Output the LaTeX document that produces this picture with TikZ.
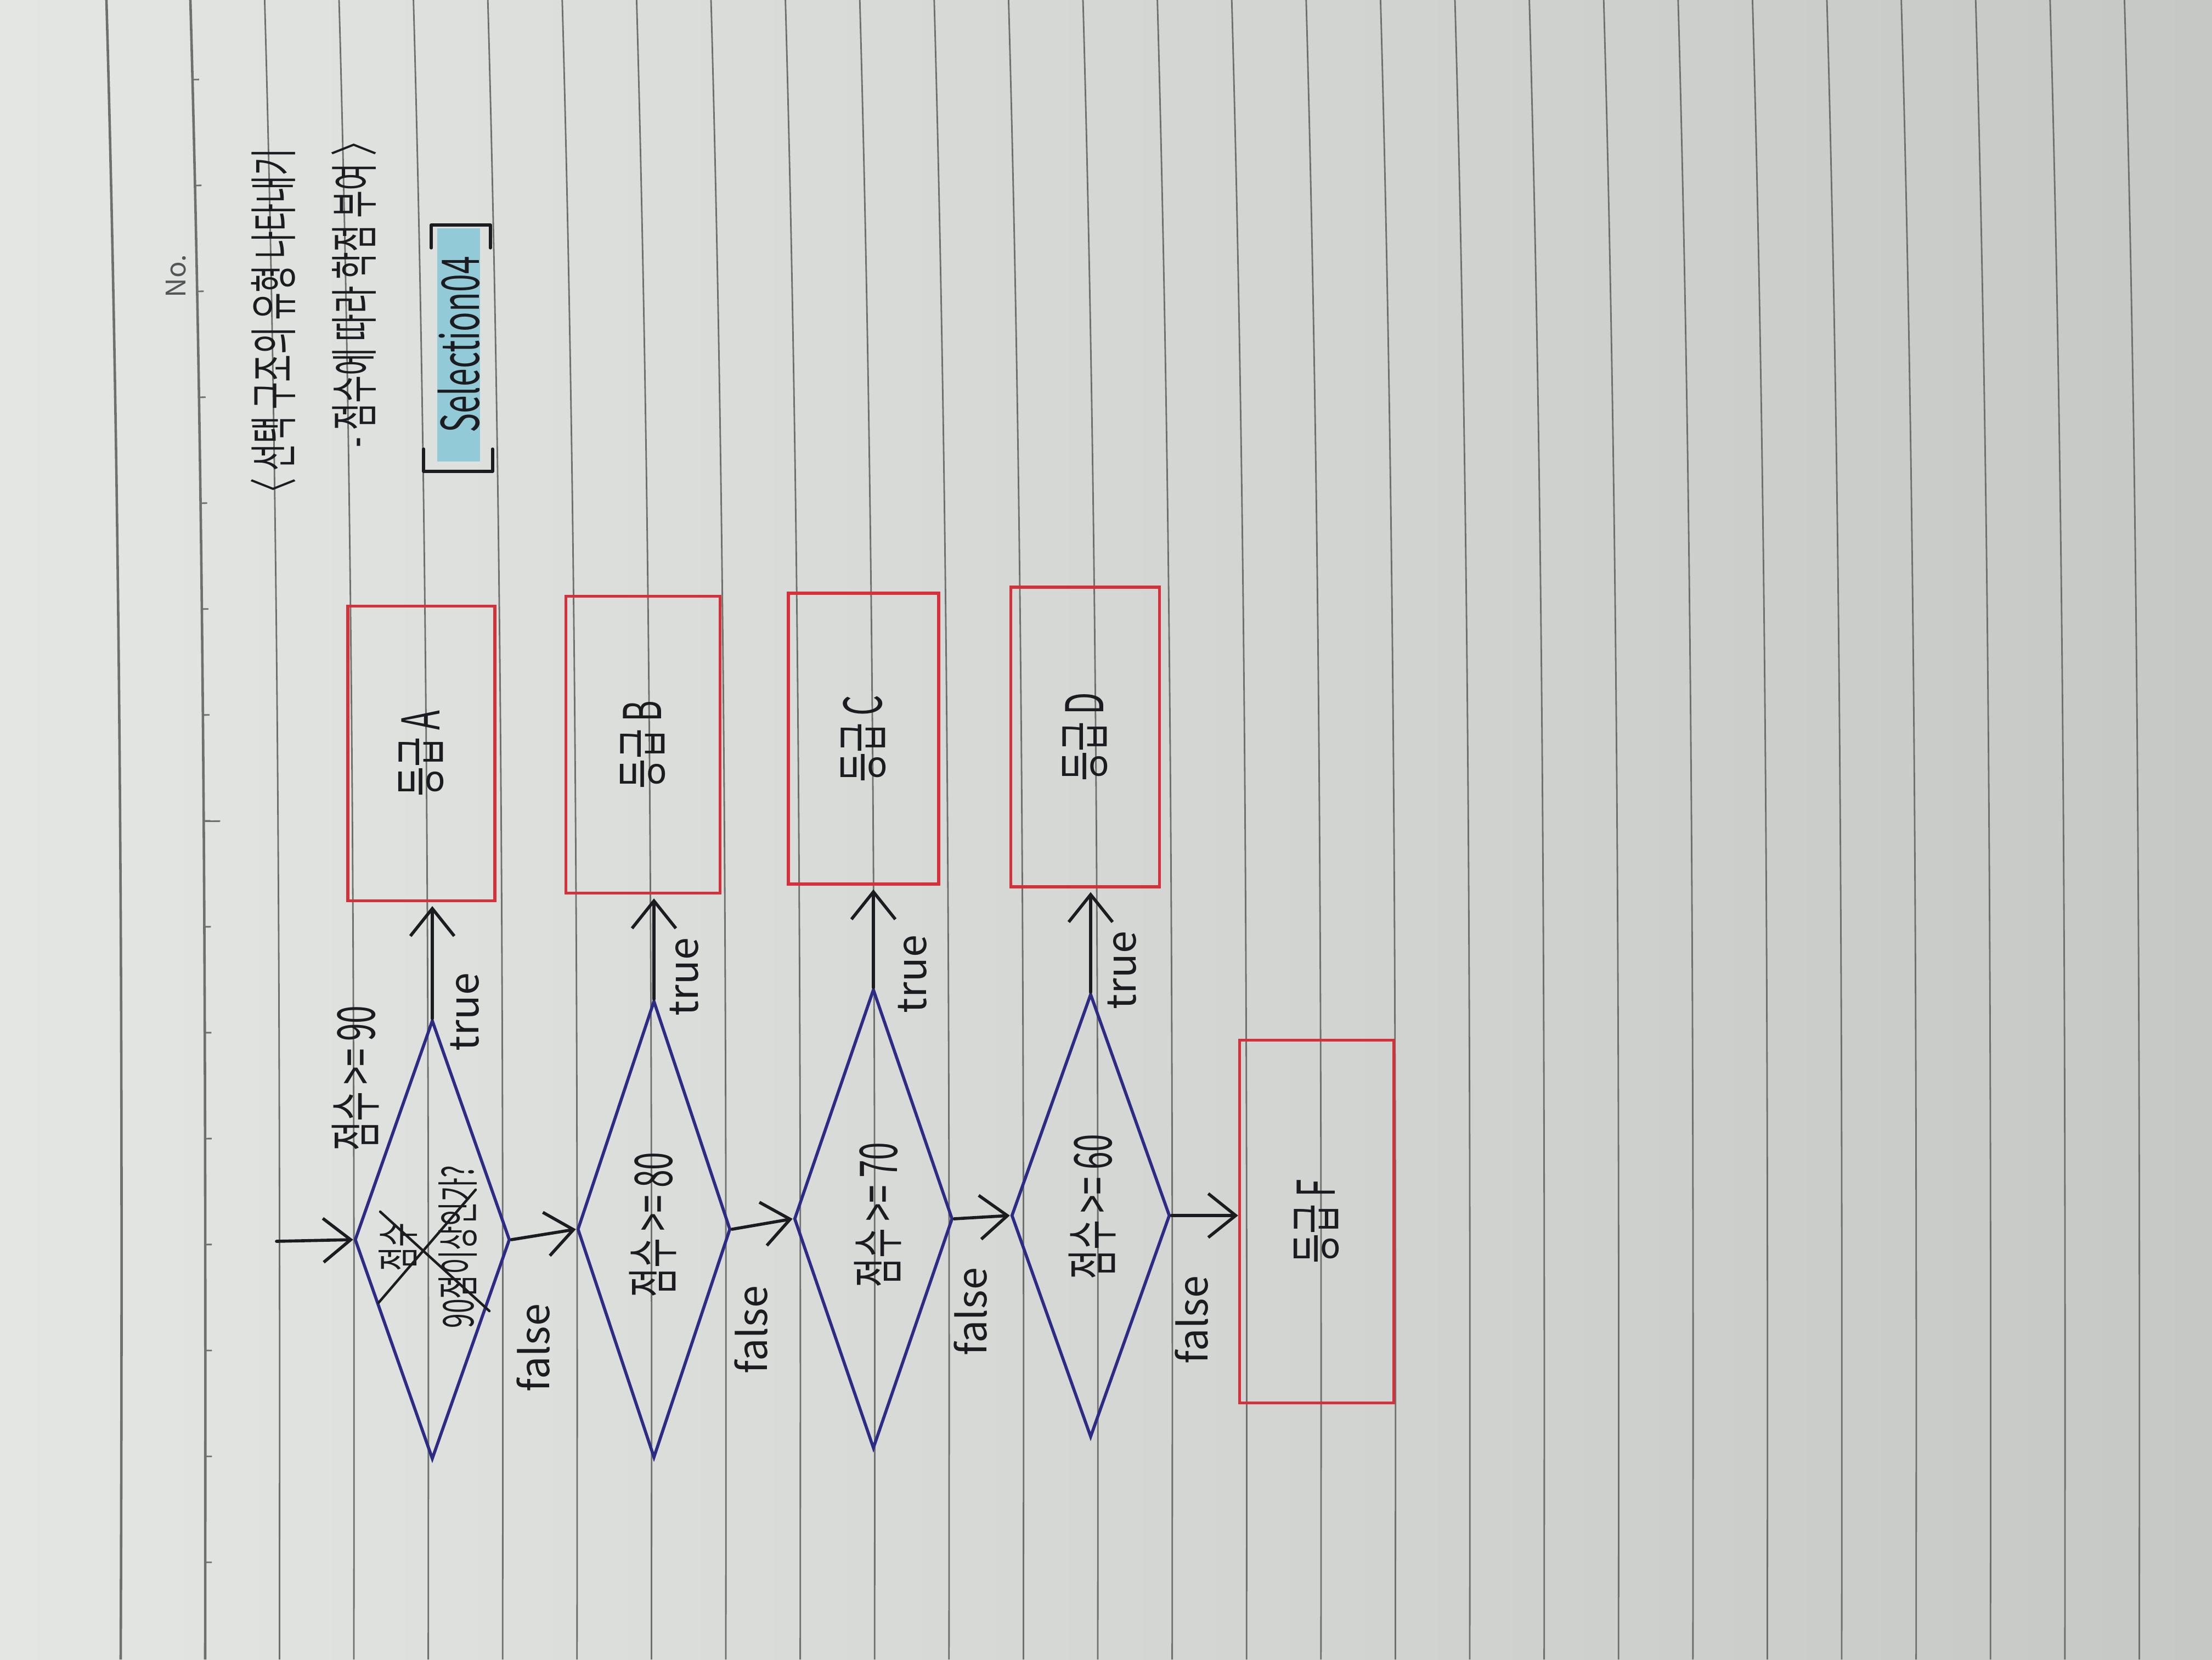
\documentclass[tikz,border=0pt]{standalone}
\usepackage{graphicx}
\usepackage{fontspec}
\setmainfont{Noto Sans CJK KR}
\newfontfamily\hand[FakeStretch=0.62]{Noto Sans CJK KR}
\usetikzlibrary{arrows.meta,shapes.geometric,decorations.markings}

\definecolor{ink}{HTML}{1C1C20}
\definecolor{navy}{HTML}{2E2B84}
\definecolor{redpen}{HTML}{D6303A}
\definecolor{marker}{HTML}{93CAD8}
\definecolor{paperl}{HTML}{E4E6E3}
\definecolor{paperr}{HTML}{C6C8C5}
\definecolor{rule}{HTML}{6E706E}

\begin{document}
\begin{tikzpicture}[
  grade/.style={draw=redpen,line width=1.5pt,rectangle,inner sep=0pt,text=ink,font=\hand\fontsize{27}{31}\selectfont},
  cond/.style={draw=navy,line width=1.6pt,diamond,inner sep=0pt},
  hw/.style={rotate=90,inner sep=0pt,text=ink,font=\hand\fontsize{27}{31}\selectfont},
  tf/.style={rotate=90,inner sep=0pt,text=ink,font=\fontsize{21}{24}\selectfont},
  pen/.style={ink,line width=1.6pt,line cap=round,line join=round},
  flow/.style={pen,-{Straight Barb[length=5mm,width=8mm]}},
  ruling/.style={rule,line width=0.8pt}]

 \useasboundingbox (0,0) rectangle (40.32,-30.24);
 \shade[left color=paperl,right color=paperr] (0,0) rectangle (40.32,-30.24);

 % ruled page
 \draw[rule,line width=1.3pt] (1.94,0) .. controls (2.22,-10) and (2.24,-20) .. (2.20,-30.24);
 \draw[rule,line width=1.3pt,postaction={decorate},decoration={markings,
   mark=between positions 0.048 and 1 step 0.0638 with {\draw[rule,line width=0.8pt] (0,0) -- (0,0.12);},
   mark=at position 0.4946 with {\draw[rule,line width=0.8pt] (0,0) -- (0,0.3);}}]
   (3.47,0) .. controls (3.75,-10) and (3.75,-20) .. (3.74,-30.24);
 \foreach \k in {-1,...,24} {
   \pgfmathsetmacro\x{6.43+1.356*\k}
   \draw[ruling] (\x-0.25,0) .. controls (\x+0.03,-10) and (\x+0.03,-20) .. (\x+0.02,-30.24);
 }

 \node[rotate=90,inner sep=0pt,text=ink!75,font=\fontsize{14}{16}\selectfont] (no) at (3.21,-5.03) {No.};

 % title
 \node[hw,font=\hand\fontsize{25}{29}\selectfont] (title) at (4.98,-5.98) {〈 선택 구조의 유형 나타내기};
 \node[hw,font=\hand\fontsize{25}{29}\selectfont] (sub)   at (6.45,-5.23) {- 점수에 따라 학점 부여 〉};
 \node[fill=marker,minimum width=0.78cm,minimum height=4.25cm,inner sep=0pt,text=ink,
       font=\hand\fontsize{27}{31}\selectfont] (sel) at (8.36,-6.28) {\rotatebox{90}{Selection04}};
 \draw[pen] ([shift={(-0.1,-0.37)}]sel.north west) |- ([shift={(0.18,0.05)}]sel.north east) -- ++(0,-0.42);
 \draw[pen] ([shift={(-0.24,0.23)}]sel.south west) |- ([shift={(0.22,-0.18)}]sel.south east) -- ++(0,0.41);

 % results
 \node[grade,minimum width=2.68cm,minimum height=5.37cm] (ga) at (7.68,-13.73)  {\rotatebox{90}{등급 A}};
 \node[grade,minimum width=2.81cm,minimum height=5.41cm] (gb) at (11.72,-13.57) {\rotatebox{90}{등급 B}};
 \node[grade,minimum width=2.74cm,minimum height=5.30cm] (gc) at (15.74,-13.46) {\rotatebox{90}{등급 C}};
 \node[grade,minimum width=2.71cm,minimum height=5.46cm] (gd) at (19.78,-13.43) {\rotatebox{90}{등급 D}};
 \node[grade,minimum width=2.81cm,minimum height=6.61cm] (gf) at (24.00,-22.26) {\rotatebox{90}{등급 F}};

 % conditions
 \node[cond,minimum width=2.83cm,minimum height=8.00cm] (d1) at (7.88,-22.59)  {};
 \node[cond,minimum width=2.79cm,minimum height=8.33cm] (d2) at (11.92,-22.40) {};
 \node[cond,minimum width=2.89cm,minimum height=8.37cm] (d3) at (15.92,-22.21) {};
 \node[cond,minimum width=2.89cm,minimum height=8.08cm] (d4) at (19.88,-22.15) {};

 \node[hw,font=\hand\fontsize{22}{31}\selectfont,align=center] (t1) at (7.80,-22.72) {점수\\90점이상인가?};
 \draw[pen,line width=1.3pt] ([shift={(-0.87,0.64)}]t1.center) -- ([shift={(1.12,-1.17)}]t1.center);
 \draw[pen,line width=1.3pt] ([shift={(-0.90,-1.02)}]t1.center) -- ([shift={(0.87,1.04)}]t1.center);
 \node[hw] (c1) at (6.48,-19.65) {점수 >= 90};
 \node[hw] (t2) at (11.90,-22.32) {점수 >= 80};
 \node[hw] (t3) at (16.00,-22.14) {점수 >= 70};
 \node[hw] (t4) at (19.91,-21.99) {점수 >= 60};

 % connectors
 \coordinate (in) at (5.04,-22.62);
 \draw[flow] (in) -- (d1.west);
 \draw[flow] (d1.east) -- (d2.west);
 \draw[flow] (d2.east) -- (d3.west);
 \draw[flow] (d3.east) -- (d4.west);
 \draw[flow] (d4.east) -- (d4.east -| gf.west);
 \foreach \d/\g in {d1/ga,d2/gb,d3/gc,d4/gd}
   \draw[flow,shorten >=2pt] (\d.north) -- (\d.north |- \g.south);

 \node[tf] (tr1) at (8.47,-18.44)  {true};
 \node[tf] (tr2) at (12.47,-17.80) {true};
 \node[tf] (tr3) at (16.63,-17.75) {true};
 \node[tf] (tr4) at (20.45,-17.68) {true};
 \node[tf] (fa1) at (9.72,-24.56)  {false};
 \node[tf] (fa2) at (13.69,-24.23) {false};
 \node[tf] (fa3) at (17.69,-23.90) {false};
 \node[tf] (fa4) at (21.72,-24.05) {false};
\end{tikzpicture}
\end{document}
